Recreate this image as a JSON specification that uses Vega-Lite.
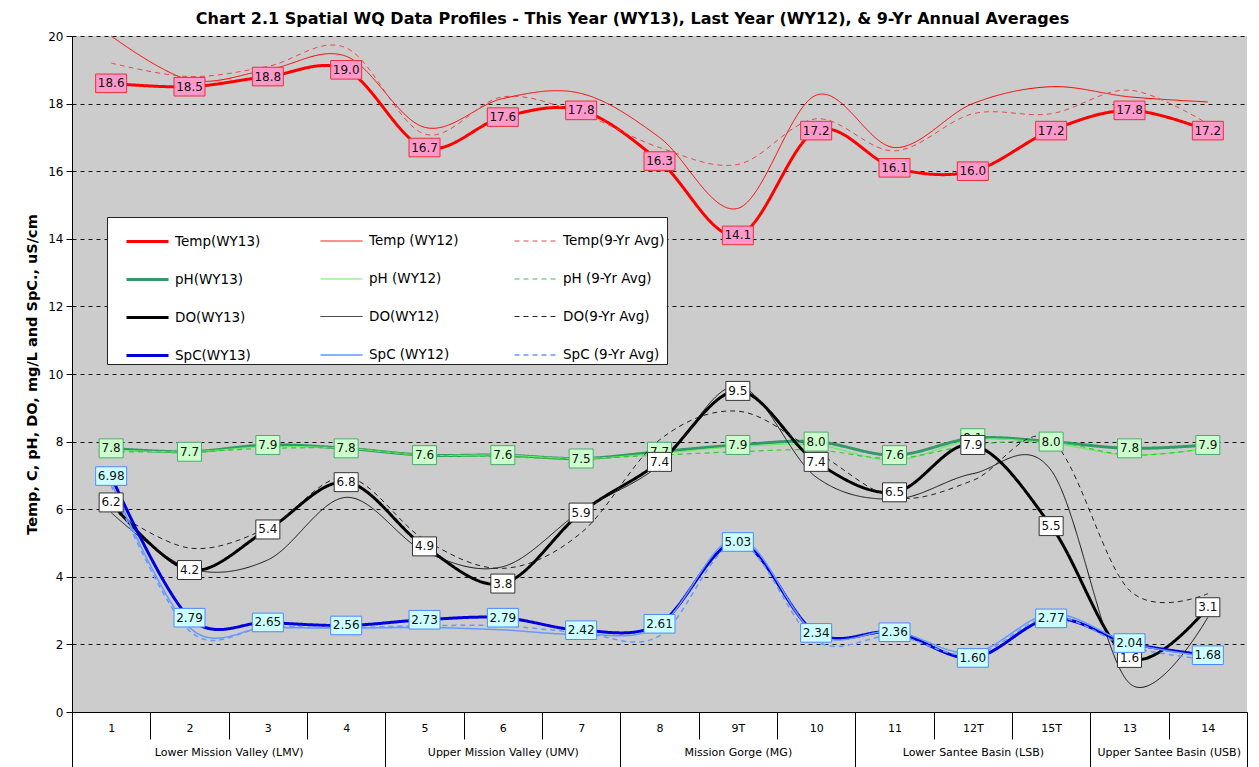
{
  "$schema": "https://vega.github.io/schema/vega-lite/v6.json",
  "width": 1175,
  "height": 676,
  "autosize": {"type": "none"},
  "padding": {"left": 72, "top": 36, "right": 12, "bottom": 55},
  "background": "white",
  "title": {
    "text": "Chart 2.1 Spatial WQ Data Profiles - This Year (WY13), Last Year (WY12), & 9-Yr Annual Averages",
    "font": "DejaVu Sans", "fontSize": 16, "fontWeight": "bold", "color": "black",
    "anchor": "middle", "offset": 3, "dx": -27
  },
  "config": {"view": {"stroke": null, "fill": "#CCCCCC"}, "font": "DejaVu Sans"},
  "data": {
    "values": [
      {"i": 1, "st": "1", "T13": 18.6, "T12": 20.0, "Tav": 19.2, "pH13": 7.8, "pH12": 7.75, "pHav": 7.7, "DO13": 6.2, "DO12": 5.9, "DOav": 6.0, "S13": 6.98, "S12": 6.8, "Sav": 6.7},
      {"i": 2, "st": "2", "T13": 18.5, "T12": 18.7, "Tav": 18.8, "pH13": 7.7, "pH12": 7.7, "pHav": 7.7, "DO13": 4.2, "DO12": 4.25, "DOav": 4.85, "S13": 2.79, "S12": 2.5, "Sav": 2.4},
      {"i": 3, "st": "3", "T13": 18.8, "T12": 19.0, "Tav": 19.1, "pH13": 7.9, "pH12": 7.85, "pHav": 7.8, "DO13": 5.4, "DO12": 4.5, "DOav": 5.45, "S13": 2.65, "S12": 2.5, "Sav": 2.52},
      {"i": 4, "st": "4", "T13": 19.0, "T12": 19.4, "Tav": 19.65, "pH13": 7.8, "pH12": 7.8, "pHav": 7.8, "DO13": 6.8, "DO12": 6.35, "DOav": 6.95, "S13": 2.56, "S12": 2.48, "Sav": 2.5},
      {"i": 5, "st": "5", "T13": 16.7, "T12": 17.3, "Tav": 17.1, "pH13": 7.6, "pH12": 7.6, "pHav": 7.6, "DO13": 4.9, "DO12": 4.75, "DOav": 5.1, "S13": 2.73, "S12": 2.5, "Sav": 2.55},
      {"i": 6, "st": "6", "T13": 17.6, "T12": 18.15, "Tav": 18.2, "pH13": 7.6, "pH12": 7.6, "pHav": 7.55, "DO13": 3.8, "DO12": 4.3, "DOav": 4.25, "S13": 2.79, "S12": 2.43, "Sav": 2.55},
      {"i": 7, "st": "7", "T13": 17.8, "T12": 18.3, "Tav": 17.7, "pH13": 7.5, "pH12": 7.5, "pHav": 7.5, "DO13": 5.9, "DO12": 5.95, "DOav": 5.3, "S13": 2.42, "S12": 2.3, "Sav": 2.35},
      {"i": 8, "st": "8", "T13": 16.3, "T12": 17.0, "Tav": 16.7, "pH13": 7.7, "pH12": 7.65, "pHav": 7.6, "DO13": 7.4, "DO12": 7.3, "DOav": 8.05, "S13": 2.61, "S12": 2.55, "Sav": 2.25},
      {"i": 9, "st": "9T", "T13": 14.1, "T12": 14.9, "Tav": 16.2, "pH13": 7.9, "pH12": 7.85, "pHav": 7.7, "DO13": 9.5, "DO12": 9.65, "DOav": 8.9, "S13": 5.03, "S12": 5.15, "Sav": 5.0},
      {"i": 10, "st": "10", "T13": 17.2, "T12": 18.25, "Tav": 17.55, "pH13": 8.0, "pH12": 7.9, "pHav": 7.75, "DO13": 7.4, "DO12": 6.95, "DOav": 7.7, "S13": 2.34, "S12": 2.3, "Sav": 2.1},
      {"i": 11, "st": "11", "T13": 16.1, "T12": 16.7, "Tav": 16.6, "pH13": 7.6, "pH12": 7.45, "pHav": 7.5, "DO13": 6.5, "DO12": 6.3, "DOav": 6.35, "S13": 2.36, "S12": 2.38, "Sav": 2.25},
      {"i": 12, "st": "12T", "T13": 16.0, "T12": 18.0, "Tav": 17.7, "pH13": 8.1, "pH12": 8.05, "pHav": 7.9, "DO13": 7.9, "DO12": 7.05, "DOav": 6.85, "S13": 1.60, "S12": 1.75, "Sav": 1.68},
      {"i": 13, "st": "15T", "T13": 17.2, "T12": 18.5, "Tav": 17.7, "pH13": 8.0, "pH12": 7.95, "pHav": 8.0, "DO13": 5.5, "DO12": 7.15, "DOav": 8.05, "S13": 2.77, "S12": 2.9, "Sav": 2.82},
      {"i": 14, "st": "13", "T13": 17.8, "T12": 18.2, "Tav": 18.4, "pH13": 7.8, "pH12": 7.6, "pHav": 7.6, "DO13": 1.6, "DO12": 0.85, "DOav": 3.6, "S13": 2.04, "S12": 2.04, "Sav": 1.93},
      {"i": 15, "st": "14", "T13": 17.2, "T12": 18.05, "Tav": 17.4, "pH13": 7.9, "pH12": 7.8, "pHav": 7.8, "DO13": 3.1, "DO12": 2.8, "DOav": 3.5, "S13": 1.68, "S12": 1.64, "Sav": 1.55}
    ]
  },
  "transform": [{"fold": ["T13", "T12", "Tav", "pH13", "pH12", "pHav", "DO13", "DO12", "DOav", "S13", "S12", "Sav"], "as": ["key", "value"]}],
  "encoding": {
    "y": {"field": "value", "type": "quantitative", "scale": {"domain": [0, 20], "nice": false},
      "axis": {"values": [0,2,4,6,8,10,12,14,16,18,20], "grid": true, "gridColor": "black", "gridDash": [4, 4], "gridWidth": 1, "gridOpacity": 0.9,
        "domainColor": "black", "tickColor": "black", "tickSize": 6, "labelFont": "DejaVu Sans", "labelFontSize": 12, "labelColor": "black", "labelPadding": 3,
        "title": "Temp, C, pH, DO, mg/L and SpC., uS/cm", "titleFont": "DejaVu Sans", "titleFontSize": 14.5, "titleFontWeight": "bold", "titleColor": "black", "titlePadding": 8}}
  },
  "layer": [
    {
      "mark": {"type": "line", "interpolate": "cardinal"},
      "encoding": {
        "x": {"field": "i", "type": "quantitative", "scale": {"domain": [0.5, 15.5], "nice": false, "zero": false},
          "axis": {"orient": "bottom", "values": [1,2,3,4,5,6,7,8,9,10,11,12,13,14,15],
            "labelExpr": "['','1','2','3','4','5','6','7','8','9T','10','11','12T','15T','13','14'][datum.value]",
            "ticks": false, "labelPadding": 10, "grid": false, "domain": true, "domainColor": "black",
            "labelFont": "DejaVu Sans", "labelFontSize": 11, "labelColor": "black", "title": null,
            "labelOverlap": false, "labelFlush": false}},
        "color": {"field": "key", "type": "nominal",
          "scale": {"domain": ["T13", "pH13", "DO13", "S13", "T12", "pH12", "DO12", "S12", "Tav", "pHav", "DOav", "Sav"],
            "range": ["#FF0000", "#339966", "#000000", "#0000DD", "#FF0000", "#66EE66", "#111111", "#6699FF", "#E8484C", "#33CC33", "#222222", "#6699FF"]},
          "legend": {"orient": "none", "legendX": 35, "legendY": 181, "title": null, "columns": 3, "gridAlign": "all",
            "columnPadding": 26, "rowPadding": 9, "padding": 2, "symbolOffset": 16, "fillColor": "white", "strokeColor": "#222222",
            "symbolType": "stroke", "symbolSize": 1764, "labelFont": "DejaVu Sans", "labelFontSize": 13.5, "labelColor": "black", "labelOffset": 5, "labelLimit": 300,
            "labelExpr": "{'T13':'Temp(WY13)','T12':'Temp (WY12)','Tav':'Temp(9-Yr Avg)','pH13':'pH(WY13)','pH12':'pH (WY12)','pHav':'pH (9-Yr Avg)','DO13':'DO(WY13)','DO12':'DO(WY12)','DOav':'DO(9-Yr Avg)','S13':'SpC(WY13)','S12':'SpC (WY12)','Sav':'SpC (9-Yr Avg)'}[datum.label]"}},
        "strokeDash": {"field": "key", "type": "nominal",
          "scale": {"domain": ["T13", "pH13", "DO13", "S13", "T12", "pH12", "DO12", "S12", "Tav", "pHav", "DOav", "Sav"],
            "range": [[1, 0], [1, 0], [1, 0], [1, 0], [1, 0], [1, 0], [1, 0], [1, 0], [5, 4], [5, 4], [5, 4], [5, 4]]},
          "legend": {"orient": "none", "legendX": 35, "legendY": 181, "title": null, "columns": 3, "gridAlign": "all",
            "columnPadding": 26, "rowPadding": 9, "padding": 2, "symbolOffset": 16, "fillColor": "white", "strokeColor": "#222222",
            "symbolType": "stroke", "symbolSize": 1764, "labelFont": "DejaVu Sans", "labelFontSize": 13.5, "labelColor": "black", "labelOffset": 5, "labelLimit": 300,
            "labelExpr": "{'T13':'Temp(WY13)','T12':'Temp (WY12)','Tav':'Temp(9-Yr Avg)','pH13':'pH(WY13)','pH12':'pH (WY12)','pHav':'pH (9-Yr Avg)','DO13':'DO(WY13)','DO12':'DO(WY12)','DOav':'DO(9-Yr Avg)','S13':'SpC(WY13)','S12':'SpC (WY12)','Sav':'SpC (9-Yr Avg)'}[datum.label]"}},
        "strokeWidth": {"field": "key", "type": "nominal",
          "scale": {"type": "ordinal", "domain": ["T13", "pH13", "DO13", "S13", "T12", "pH12", "DO12", "S12", "Tav", "pHav", "DOav", "Sav"],
            "range": [3, 3, 3, 3, 1, 1.2, 1, 1.5, 1, 1.2, 1, 1.5]},
          "legend": {"orient": "none", "legendX": 35, "legendY": 181, "title": null, "columns": 3, "gridAlign": "all",
            "columnPadding": 26, "rowPadding": 9, "padding": 2, "symbolOffset": 16, "fillColor": "white", "strokeColor": "#222222",
            "symbolType": "stroke", "symbolSize": 1764, "labelFont": "DejaVu Sans", "labelFontSize": 13.5, "labelColor": "black", "labelOffset": 5, "labelLimit": 300,
            "labelExpr": "{'T13':'Temp(WY13)','T12':'Temp (WY12)','Tav':'Temp(9-Yr Avg)','pH13':'pH(WY13)','pH12':'pH (WY12)','pHav':'pH (9-Yr Avg)','DO13':'DO(WY13)','DO12':'DO(WY12)','DOav':'DO(9-Yr Avg)','S13':'SpC(WY13)','S12':'SpC (WY12)','Sav':'SpC (9-Yr Avg)'}[datum.label]"}}
      }
    },
    {
      "transform": [{"filter": {"field": "key", "equal": "T13"}}],
      "mark": {"type": "point", "filled": true, "opacity": 1, "fill": "#FF99CC", "stroke": "#E8303A", "strokeWidth": 1,
        "shape": "M-1,-0.6L1,-0.6L1,0.6L-1,0.6Z", "size": 961},
      "encoding": {
        "x": {"field": "i", "type": "quantitative", "scale": {"domain": [0.5, 15.5], "nice": false, "zero": false},
          "axis": {"orient": "bottom", "values": [0.5,1.5,2.5,3.5,4.5,5.5,6.5,7.5,8.5,9.5,10.5,11.5,12.5,13.5,14.5,15.5],
            "labels": false, "ticks": true, "tickSize": 27, "tickColor": "black", "domain": false, "grid": false, "title": null}}
      }
    },
    {
      "transform": [{"filter": {"field": "key", "equal": "T13"}}],
      "mark": {"type": "text", "font": "DejaVu Sans", "fontSize": 12, "color": "#111111"},
      "encoding": {
        "x": {"field": "i", "type": "quantitative", "scale": {"domain": [0.5, 15.5], "nice": false, "zero": false},
          "axis": {"orient": "bottom", "values": [2.5, 6, 9, 12, 14.5],
            "labelExpr": "datum.value == 2.5 ? 'Lower Mission Valley (LMV)' : datum.value == 6 ? 'Upper Mission Valley (UMV)' : datum.value == 9 ? 'Mission Gorge (MG)' : datum.value == 12 ? 'Lower Santee Basin (LSB)' : 'Upper Santee Basin (USB)'",
            "ticks": false, "domain": false, "grid": false, "labelPadding": 34, "labelFont": "DejaVu Sans", "labelFontSize": 11, "labelColor": "black",
            "title": null, "labelOverlap": false, "labelFlush": false}},
        "text": {"field": "value", "type": "quantitative", "format": ".1f"}
      }
    },
    {
      "transform": [{"filter": {"field": "key", "equal": "pH13"}}],
      "mark": {"type": "point", "filled": true, "opacity": 1, "fill": "#CCFFCC", "stroke": "#4DAA70", "strokeWidth": 1,
        "shape": "M-1,-0.79L1,-0.79L1,0.79L-1,0.79Z", "size": 576},
      "encoding": {
        "x": {"field": "i", "type": "quantitative", "scale": {"domain": [0.5, 15.5], "nice": false, "zero": false},
          "axis": {"orient": "bottom", "values": [0.5, 4.5, 7.5, 10.5, 13.5, 15.5],
            "labels": false, "ticks": true, "tickSize": 56, "tickColor": "black", "domain": false, "grid": false, "title": null}}
      }
    },
    {
      "transform": [{"filter": {"field": "key", "equal": "pH13"}}],
      "mark": {"type": "text", "font": "DejaVu Sans", "fontSize": 12, "color": "#111111"},
      "encoding": {
        "x": {"field": "i", "type": "quantitative", "scale": {"domain": [0.5, 15.5], "nice": false, "zero": false}, "axis": null},
        "text": {"field": "value", "type": "quantitative", "format": ".1f"}
      }
    },
    {
      "transform": [{"filter": {"field": "key", "equal": "DO13"}}],
      "mark": {"type": "point", "filled": true, "opacity": 1, "fill": "#FFFFFF", "stroke": "#333333", "strokeWidth": 1,
        "shape": "M-1,-0.79L1,-0.79L1,0.79L-1,0.79Z", "size": 576},
      "encoding": {
        "x": {"field": "i", "type": "quantitative", "scale": {"domain": [0.5, 15.5], "nice": false, "zero": false}, "axis": null}
      }
    },
    {
      "transform": [{"filter": {"field": "key", "equal": "DO13"}}],
      "mark": {"type": "text", "font": "DejaVu Sans", "fontSize": 12, "color": "#111111"},
      "encoding": {
        "x": {"field": "i", "type": "quantitative", "scale": {"domain": [0.5, 15.5], "nice": false, "zero": false}, "axis": null},
        "text": {"field": "value", "type": "quantitative", "format": ".1f"}
      }
    },
    {
      "transform": [{"filter": {"field": "key", "equal": "S13"}}],
      "mark": {"type": "point", "filled": true, "opacity": 1, "fill": "#CCFFFF", "stroke": "#4D88FF", "strokeWidth": 1,
        "shape": "M-1,-0.6L1,-0.6L1,0.6L-1,0.6Z", "size": 961},
      "encoding": {
        "x": {"field": "i", "type": "quantitative", "scale": {"domain": [0.5, 15.5], "nice": false, "zero": false}, "axis": null}
      }
    },
    {
      "transform": [{"filter": {"field": "key", "equal": "S13"}}],
      "mark": {"type": "text", "font": "DejaVu Sans", "fontSize": 12, "color": "#111111"},
      "encoding": {
        "x": {"field": "i", "type": "quantitative", "scale": {"domain": [0.5, 15.5], "nice": false, "zero": false}, "axis": null},
        "text": {"field": "value", "type": "quantitative", "format": ".2f"}
      }
    }
  ],
  "resolve": {"axis": {"x": "independent"}}
}
